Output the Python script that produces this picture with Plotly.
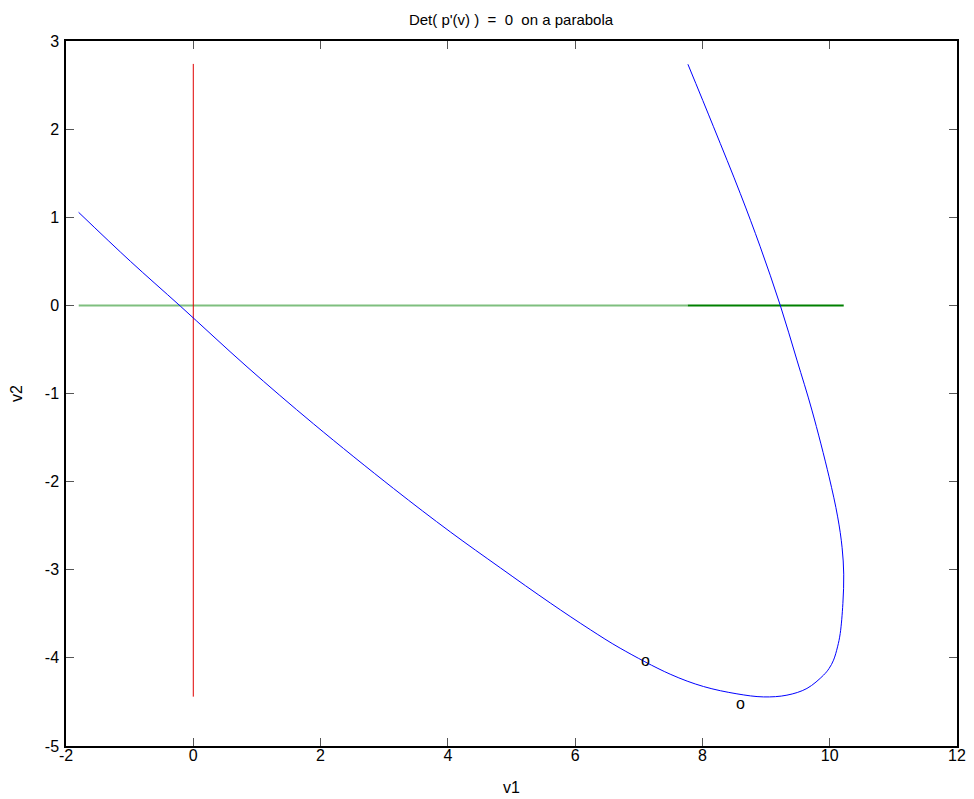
import plotly.graph_objects as go

# Blue curve: Det(p'(v)) = 0 (in order along the curve)
curve_v1 = [-1.802, -0.988, -0.204, 0.844, 1.890, 3.147, 4.038, 4.824, 5.609, 6.238,
            6.707, 7.493, 8.017, 8.542, 8.960, 9.328, 9.642, 9.903, 9.990, 10.060,
            10.123, 10.165, 10.207, 10.220, 10.195, 10.125, 9.990, 9.720, 9.485, 9.222,
            8.908, 8.594, 8.174, 7.772]
curve_v2 = [1.056, 0.500, -0.008, -0.697, -1.345, -2.078, -2.570, -2.978, -3.377, -3.680,
            -3.890, -4.185, -4.325, -4.408, -4.443, -4.423, -4.347, -4.196, -4.120, -4.026,
            -3.875, -3.723, -3.383, -3.050, -2.750, -2.400, -1.946, -1.188, -0.621, 0.003,
            0.665, 1.271, 2.027, 2.736]

# Horizontal green lines (v2 = 0)
green_light_v1 = [-1.80, 7.77]
green_dark_v1 = [7.77, 10.22]
green_v2 = [0, 0]

# Vertical red line (v1 = 0)
red_v1 = [0, 0]
red_v2 = [-4.44, 2.74]

# 'o' text marks
o_v1 = [7.10, 8.60]
o_v2 = [-4.03, -4.52]

x_ticks = [-2, 0, 2, 4, 6, 8, 10, 12]
y_ticks = [-5, -4, -3, -2, -1, 0, 1, 2, 3]

font = "Liberation Sans, Arial, sans-serif"

fig = go.Figure()
fig.add_trace(go.Scatter(x=green_light_v1, y=green_v2, mode="lines",
                         line=dict(color="#7fbf7f", width=2), hoverinfo="skip"))
fig.add_trace(go.Scatter(x=green_dark_v1, y=green_v2, mode="lines",
                         line=dict(color="#008000", width=2), hoverinfo="skip"))
fig.add_trace(go.Scatter(x=red_v1, y=red_v2, mode="lines",
                         line=dict(color="#e00000", width=1), hoverinfo="skip"))
fig.add_trace(go.Scatter(x=curve_v1, y=curve_v2, mode="lines",
                         line=dict(color="#0000ff", width=1, shape="spline", smoothing=1.0),
                         hoverinfo="skip"))

for xv, yv in zip(o_v1, o_v2):
    fig.add_annotation(x=xv, y=yv, text="o", showarrow=False,
                       xanchor="center", yanchor="middle",
                       font=dict(family=font, size=16, color="black"))

axis_common = dict(
    showgrid=False, zeroline=False, showline=True, linecolor="black", linewidth=1.5,
    mirror="ticks", ticks="inside", ticklen=8, tickcolor="#555555", tickwidth=1,
    tickfont=dict(family=font, size=16, color="black"), automargin=False,
)

# page has an 8px body margin, so the figure is sized to fit the 974x799 window
fig.update_layout(
    width=966, height=791,
    margin=dict(l=58, r=17, t=33, b=53),
    paper_bgcolor="white", plot_bgcolor="white",
    showlegend=False,
    title=dict(text="Det( p'(v) )  =  0  on a parabola", x=0.5207, xanchor="center",
               y=0.985, yanchor="middle", yref="container",
               font=dict(family=font, size=15, color="black")),
    xaxis=dict(range=[-2, 12], tickvals=x_ticks, ticktext=[str(v) for v in x_ticks],
               ticklabelstandoff=-6,
               title=dict(text="v1", font=dict(family=font, size=16, color="black"), standoff=19),
               **axis_common),
    yaxis=dict(range=[-5, 3], tickvals=y_ticks, ticktext=[str(v) for v in y_ticks],
               ticklabelstandoff=2,
               title=dict(text="v2", font=dict(family=font, size=16, color="black"), standoff=18),
               **axis_common),
)

fig.write_html("out.html")
